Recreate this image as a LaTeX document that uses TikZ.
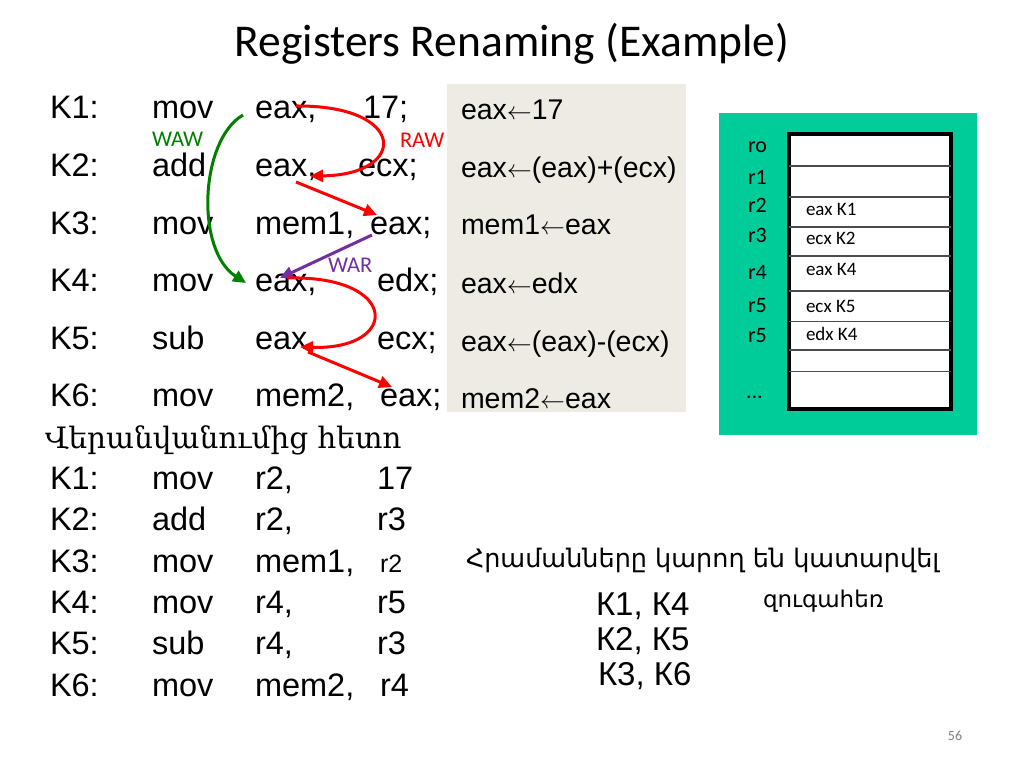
\documentclass[tikz,border=0pt]{standalone}
\usepackage{fontspec}
\setmainfont{Liberation Sans}
\newfontfamily\calfont{Carlito}
\newfontfamily\armserif{DejaVu Serif}
\newfontfamily\armsans{DejaVu Sans}
\usetikzlibrary{arrows.meta}
\definecolor{grayback}{RGB}{237,235,228}
\definecolor{greenback}{RGB}{0,204,153}
\definecolor{wawgreen}{RGB}{0,128,0}
\definecolor{warpurple}{RGB}{112,48,160}
\definecolor{pagegray}{RGB}{128,128,128}
\begin{document}
\begin{tikzpicture}[x=1pt,y=-1pt,
  every node/.style={inner sep=0pt,outer sep=0pt},
  code/.style={anchor=base west,font=\fontsize{32.5}{39}\selectfont},
  smallcode/.style={anchor=base west,font=\fontsize{25}{30}\selectfont},
  gcode/.style={anchor=base west,font=\fontsize{28.5}{33}\selectfont},
  reg/.style={anchor=base west,font=\calfont\fontsize{22}{26}\selectfont},
  cell/.style={anchor=base west,font=\calfont\fontsize{19}{23}\selectfont},
  pairs/.style={anchor=base west,font=\fontsize{33}{39}\selectfont},
  deplabel/.style={anchor=base west,font=\calfont\fontsize{22.5}{26}\selectfont},
  dep/.style={line width=3pt,-{Triangle[length=13pt,width=12pt]}},
  rowline/.style={line width=1.2pt,draw=black!70}]
\useasboundingbox (0,0) rectangle (1024,767);
\fill[white] (0,0) rectangle (1024,767);

% title
\node[anchor=base,font=\calfont\fontsize{45.5}{54}\selectfont] (title) at (512,57) {Registers Renaming (Example)};

% grey box
\fill[grayback] (447,84) rectangle (686,412);
% green box and table
\fill[greenback] (719,113) rectangle (977,435);
\node[draw=black,line width=3.5pt,fill=white,minimum width=162pt,minimum height=275pt,anchor=north west] (table) at (789,134) {};
\foreach \yy in {166,197,227,256,291,321.5,350,371.5}
  \draw[rowline] (789,\yy) -- (951,\yy);

% register labels
\node[reg] (r0) at (748,153) {ro};
\node[reg] (r1) at (748,185) {r1};
\node[reg] (r2) at (748,213) {r2};
\node[reg] (r3) at (748,243) {r3};
\node[reg] (r4) at (748,279) {r4};
\node[reg] (r5a) at (748,312) {r5};
\node[reg] (r5b) at (748,342) {r5};
\node[reg] (rdots) at (746,398) {...};
\node[cell] (c2) at (806,216) {eax K1};
\node[cell] (c3) at (806,244) {ecx K2};
\node[cell] (c4) at (806,275) {eax K4};
\node[cell] (c5) at (806,312) {ecx K5};
\node[cell] (c6) at (806,340) {edx K4};

% upper program
\node[code] (k1) at (50,119) {K1:};
\node[code] (k1op) at (152,119) {mov};
\node[code] (k1a) at (255,119) {eax,};
\node[code] (k1b) at (363,119) {17;};
\node[code] (k2) at (50,176.5) {K2:};
\node[code] (k2op) at (152,176.5) {add};
\node[code] (k2a) at (255,176.5) {eax,};
\node[code] (k2b) at (358,176.5) {ecx;};
\node[code] (k3) at (50,234) {K3:};
\node[code] (k3op) at (152,234) {mov};
\node[code] (k3a) at (255,234) {mem1,};
\node[code] (k3b) at (370,234) {eax;};
\node[code] (k4) at (50,291.5) {K4:};
\node[code] (k4op) at (152,291.5) {mov};
\node[code] (k4a) at (255,291.5) {eax,};
\node[code] (k4b) at (377,291.5) {edx;};
\node[code] (k5) at (50,349) {K5:};
\node[code] (k5op) at (152,349) {sub};
\node[code] (k5a) at (255,349) {eax,};
\node[code] (k5b) at (377,349) {ecx;};
\node[code] (k6) at (50,406.5) {K6:};
\node[code] (k6op) at (152,406.5) {mov};
\node[code] (k6a) at (255,406.5) {mem2,};
\node[code] (k6b) at (380,406.5) {eax;};

% semantics in grey box
\node[gcode] (s1) at (461,120) {eax$\leftarrow$17};
\node[gcode] (s2) at (461,178) {eax$\leftarrow$(eax)+(ecx)};
\node[gcode] (s3) at (461,235) {mem1$\leftarrow$eax};
\node[gcode] (s4) at (461,293) {eax$\leftarrow$edx};
\node[gcode] (s5) at (461,351) {eax$\leftarrow$(eax)-(ecx)};
\node[gcode] (s6) at (461,408) {mem2$\leftarrow$eax};

% dependency arrows
\coordinate (a1s) at (296,106);
\coordinate (a1e) at (310,176);
\coordinate (a2s) at (296,182);
\coordinate (a2e) at (377,215);
\coordinate (a3s) at (372,235);
\coordinate (a3e) at (280,278);
\coordinate (a4s) at (287,278);
\coordinate (a4e) at (300,347);
\coordinate (a5s) at (308,352);
\coordinate (a5e) at (392,387);
\coordinate (a6s) at (243,115);
\coordinate (a6e) at (246,283);
\draw[dep,red] (a1s) .. controls (408,105) and (408,175) .. (a1e);
\draw[dep,red] (a2s) -- (a2e);
\draw[dep,warpurple] (a3s) -- (a3e);
\draw[dep,red] (a4s) .. controls (400,275) and (400,350) .. (a4e);
\draw[dep,red] (a5s) -- (a5e);
\draw[dep,wawgreen] (a6s) .. controls (200,140) and (195,250) .. (a6e);
\node[deplabel,text=red] (raw) at (400,148) {RAW};
\node[deplabel,text=wawgreen] (waw) at (152,147) {WAW};
\node[deplabel,text=warpurple] (war) at (328,272) {WAR};

% after renaming
\node[anchor=base west,font=\armserif\fontsize{29.5}{35}\selectfont] (after) at (45,448) {Վերանվանումից հետո};
\node[code] (n1) at (50,489) {K1:};
\node[code] (n1op) at (152,489) {mov};
\node[code] (n1a) at (255,489) {r2,};
\node[code] (n1b) at (377,489) {17};
\node[code] (n2) at (50,530.5) {K2:};
\node[code] (n2op) at (152,530.5) {add};
\node[code] (n2a) at (255,530.5) {r2,};
\node[code] (n2b) at (377,530.5) {r3};
\node[code] (n3) at (50,572) {K3:};
\node[code] (n3op) at (152,572) {mov};
\node[code] (n3a) at (255,572) {mem1,};
\node[smallcode] (n3b) at (380,572) {r2};
\node[code] (n4) at (50,613) {K4:};
\node[code] (n4op) at (152,613) {mov};
\node[code] (n4a) at (255,613) {r4,};
\node[code] (n4b) at (377,613) {r5};
\node[code] (n5) at (50,654.5) {K5:};
\node[code] (n5op) at (152,654.5) {sub};
\node[code] (n5a) at (255,654.5) {r4,};
\node[code] (n5b) at (377,654.5) {r3};
\node[code] (n6) at (50,696) {K6:};
\node[code] (n6op) at (152,696) {mov};
\node[code] (n6a) at (255,696) {mem2,};
\node[code] (n6b) at (380,696) {r4};

% parallel note
\node[anchor=base west,font=\armsans\fontsize{25.5}{30}\selectfont] (note) at (466,567) {Հրամանները կարող են կատարվել};
\node[pairs] (p1) at (596,615) {К1,\ К4};
\node[anchor=base west,font=\armsans\fontsize{23}{27}\selectfont] (par) at (763,607) {զուգահեռ};
\node[pairs] (p2) at (596,650) {К2,\ К5};
\node[pairs] (p3) at (598,685) {К3,\ К6};

% page number
\node[anchor=base,font=\calfont\fontsize{14}{17}\selectfont,text=pagegray] (pg) at (955,740) {56};
\end{tikzpicture}
\end{document}
